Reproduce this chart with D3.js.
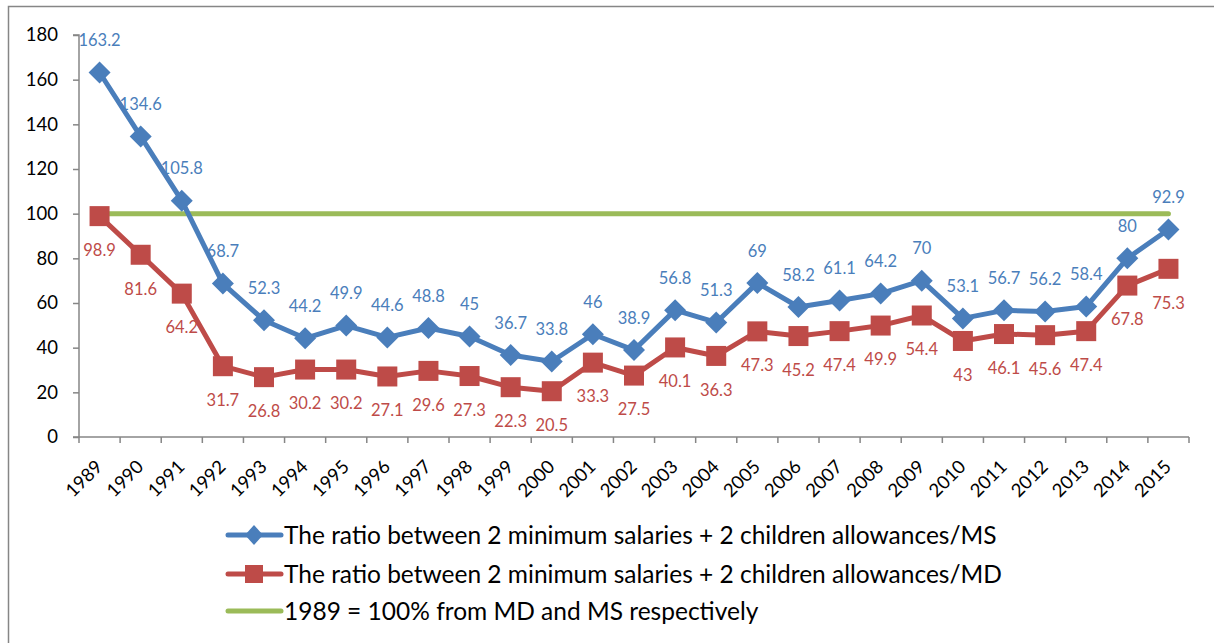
<!DOCTYPE html>
<html><head><meta charset="utf-8">
<script src="https://cdn.jsdelivr.net/npm/d3@7"></script>
<style>html,body{margin:0;padding:0;background:#fff;}svg{display:block;font-family:Lato,"Open Sans",sans-serif;}</style>
</head><body><svg id="c" width="1214" height="643"></svg>
<script>
const years = ["1989","1990","1991","1992","1993","1994","1995","1996","1997","1998","1999","2000","2001","2002","2003","2004","2005","2006","2007","2008","2009","2010","2011","2012","2013","2014","2015"];
const msValues = [163.2,134.6,105.8,68.7,52.3,44.2,49.9,44.6,48.8,45,36.7,33.8,46,38.9,56.8,51.3,69,58.2,61.1,64.2,70,53.1,56.7,56.2,58.4,80,92.9];
const mdValues = [98.9,81.6,64.2,31.7,26.8,30.2,30.2,27.1,29.6,27.3,22.3,20.5,33.3,27.5,40.1,36.3,47.3,45.2,47.4,49.9,54.4,43,46.1,45.6,47.4,67.8,75.3];
const refValues = years.map(() => 100);
const yTicks = [0,20,40,60,80,100,120,140,160,180];
const legendLabels = ["The ratio between 2 minimum salaries + 2 children allowances/MS","The ratio between 2 minimum salaries + 2 children allowances/MD","1989 = 100% from MD and MS respectively"];

const blue = "#4A7EBB", red = "#BE4B48", green = "#9BBB59";
const svg = d3.select("#c");
svg.append("rect").attr("x",8.5).attr("y",6.5).attr("width",1230).attr("height",660).attr("fill","none").attr("stroke","#868686").attr("stroke-width",1.5);

const x = d3.scaleBand().domain(years).range([79,1189]);
const y = d3.scaleLinear().domain([0,180]).range([437,35]);
const cx = d => x(d) + x.bandwidth()/2;

// y axis
const ya = svg.append("g").attr("transform","translate(79,0)").call(d3.axisLeft(y).tickValues(yTicks).tickSize(6).tickPadding(15));
ya.select(".domain").attr("stroke","#868686").attr("stroke-width",1.5).attr("d","M-6,"+y(180)+"H0V"+y(0)+"H-6");
ya.selectAll(".tick line").attr("stroke","#868686").attr("stroke-width",1.5);
ya.selectAll(".tick text").attr("font-size",18.5).attr("fill","#000").attr("font-family","Lato");

// x axis
const xa = svg.append("g").attr("transform","translate(0,437)").call(d3.axisBottom(x).tickSize(0).tickFormat(""));
xa.select(".domain").attr("stroke","#868686").attr("stroke-width",1.5).attr("d","M79,0H1189");
const bounds = years.map(yr => x(yr)).concat([1189]);
svg.append("g").selectAll("line").data(bounds).join("line")
  .attr("x1",d=>d).attr("x2",d=>d).attr("y1",437).attr("y2",443).attr("stroke","#868686").attr("stroke-width",1.5);
svg.append("g").selectAll("text").data(years).join("text")
  .attr("transform",d=>`translate(${cx(d)+4},${468}) rotate(-45)`)
  .attr("text-anchor","end").attr("font-size",18.5).attr("fill","#000").text(d=>d);

// green reference line
const line = d3.line().x((d,i)=>cx(years[i])).y(d=>y(d));
svg.append("path").attr("d",line(refValues)).attr("fill","none").attr("stroke",green).attr("stroke-width",5).attr("stroke-linecap","round");

// red series
svg.append("path").attr("d",line(mdValues)).attr("fill","none").attr("stroke",red).attr("stroke-width",5).attr("stroke-linejoin","round");
svg.append("g").selectAll("rect").data(mdValues).join("rect")
  .attr("x",(d,i)=>cx(years[i])-10).attr("y",d=>y(d)-10).attr("width",20).attr("height",20).attr("fill",red);

// blue series
svg.append("path").attr("d",line(msValues)).attr("fill","none").attr("stroke",blue).attr("stroke-width",5).attr("stroke-linejoin","round");
svg.append("g").selectAll("path").data(msValues).join("path")
  .attr("transform",(d,i)=>`translate(${cx(years[i])},${y(d)})`)
  .attr("d","M0,-11L11,0L0,11L-11,0Z").attr("fill",blue);

// labels
svg.append("g").selectAll("text").data(msValues).join("text")
  .attr("x",(d,i)=>cx(years[i])).attr("y",d=>y(d)-32).attr("dy","0.35em")
  .attr("text-anchor","middle").attr("font-size",16.5).attr("fill",blue).text(d=>d);
svg.append("g").selectAll("text").data(mdValues).join("text")
  .attr("x",(d,i)=>cx(years[i])).attr("y",d=>y(d)+34).attr("dy","0.35em")
  .attr("text-anchor","middle").attr("font-size",16.5).attr("fill",red).text(d=>d);

// legend
const lg = svg.append("g");
const rows = [535,574,611];
const cols = [blue,red,green];
rows.forEach((ry,i)=>{
  lg.append("line").attr("x1",228).attr("x2",281).attr("y1",ry).attr("y2",ry).attr("stroke",cols[i]).attr("stroke-width",5).attr("stroke-linecap","round");
  if(i===0) lg.append("path").attr("transform",`translate(254,${ry})`).attr("d","M0,-10L9,0L0,10L-9,0Z").attr("fill",blue);
  if(i===1) lg.append("rect").attr("x",245).attr("y",ry-9).attr("width",18).attr("height",18).attr("fill",red);
  lg.append("text").attr("x",284).attr("y",ry).attr("dy","0.35em").attr("font-size",24.5).attr("fill","#000").text(legendLabels[i]);
});
</script></body></html>
